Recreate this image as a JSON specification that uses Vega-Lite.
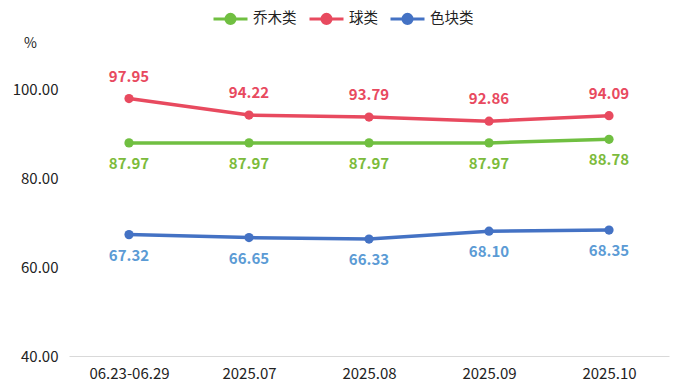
{
  "$schema": "https://vega.github.io/schema/vega-lite/v6.json",
  "width": 600,
  "height": 311,
  "autosize": {"type": "none"},
  "padding": {"left": 69, "top": 45, "right": 13, "bottom": 33},
  "background": "white",
  "config": {
    "view": {"stroke": null},
    "font": "Noto Sans CJK SC",
    "axis": {"labelFont": "Noto Sans CJK SC", "titleFont": "Noto Sans CJK SC"}
  },
  "data": {
    "values": [
      {"period": "06.23-06.29", "type": "乔木类", "value": 87.97},
      {"period": "2025.07", "type": "乔木类", "value": 87.97},
      {"period": "2025.08", "type": "乔木类", "value": 87.97},
      {"period": "2025.09", "type": "乔木类", "value": 87.97},
      {"period": "2025.10", "type": "乔木类", "value": 88.78},
      {"period": "06.23-06.29", "type": "球类", "value": 97.95},
      {"period": "2025.07", "type": "球类", "value": 94.22},
      {"period": "2025.08", "type": "球类", "value": 93.79},
      {"period": "2025.09", "type": "球类", "value": 92.86},
      {"period": "2025.10", "type": "球类", "value": 94.09},
      {"period": "06.23-06.29", "type": "色块类", "value": 67.32},
      {"period": "2025.07", "type": "色块类", "value": 66.65},
      {"period": "2025.08", "type": "色块类", "value": 66.33},
      {"period": "2025.09", "type": "色块类", "value": 68.10},
      {"period": "2025.10", "type": "色块类", "value": 68.35}
    ]
  },
  "encoding": {
    "x": {
      "field": "period", "type": "nominal", "sort": null,
      "scale": {"type": "point", "padding": 0.5},
      "axis": {
        "title": null, "labelAngle": 0, "ticks": false, "grid": false,
        "domainColor": "#d9d9d9", "domainWidth": 1,
        "labelFontSize": 15, "labelColor": "#222222", "labelPadding": 10
      }
    },
    "y": {
      "field": "value", "type": "quantitative",
      "scale": {"domain": [40, 110], "nice": false, "zero": false},
      "axis": {
        "title": "%", "titleAngle": 0, "titleX": -39, "titleY": -2,
        "titleFontSize": 14, "titleFontWeight": "normal", "titleColor": "#222222",
        "titleBaseline": "middle", "titleAlign": "center",
        "values": [40, 60, 80, 100], "format": ".2f",
        "domain": false, "ticks": false, "grid": false,
        "labelFontSize": 15, "labelColor": "#222222", "labelPadding": 11
      }
    }
  },
  "layer": [
    {
      "mark": {"type": "line", "strokeWidth": 3.5},
      "encoding": {
        "color": {
          "field": "type", "type": "nominal",
          "scale": {"domain": ["乔木类", "球类", "色块类"], "range": ["#70bf41", "#e84a5f", "#4472c4"]},
          "legend": {
            "title": null, "orient": "none", "direction": "horizontal",
            "legendX": 143, "legendY": -45,
            "symbolType": "M-1,0L1,0M0.27,0A0.27,0.27 0 1,1 -0.27,0A0.27,0.27 0 1,1 0.27,0",
            "symbolSize": 1156, "symbolStrokeWidth": 3,
            "labelFontSize": 14.5, "labelColor": "#222222", "labelOffset": 4,
            "columnPadding": 6,
            "encode": {"symbols": {"update": {"fill": {"scale": "color", "field": "value"}, "fillOpacity": {"value": 1}}}}
          }
        }
      }
    },
    {
      "mark": {"type": "point", "filled": true, "size": 85, "opacity": 1},
      "encoding": {"color": {"field": "type", "type": "nominal", "legend": null}}
    },
    {
      "transform": [{"filter": "datum.type === '球类'"}],
      "mark": {"type": "text", "dy": -22, "fontSize": 15, "fontWeight": "bold", "color": "#e84a5f"},
      "encoding": {"text": {"field": "value", "type": "quantitative", "format": ".2f"}}
    },
    {
      "transform": [{"filter": "datum.type === '乔木类'"}],
      "mark": {"type": "text", "dy": 21, "fontSize": 15, "fontWeight": "bold", "color": "#7cbb3c"},
      "encoding": {"text": {"field": "value", "type": "quantitative", "format": ".2f"}}
    },
    {
      "transform": [{"filter": "datum.type === '色块类'"}],
      "mark": {"type": "text", "dy": 21, "fontSize": 15, "fontWeight": "bold", "color": "#5b9bd5"},
      "encoding": {"text": {"field": "value", "type": "quantitative", "format": ".2f"}}
    }
  ]
}
